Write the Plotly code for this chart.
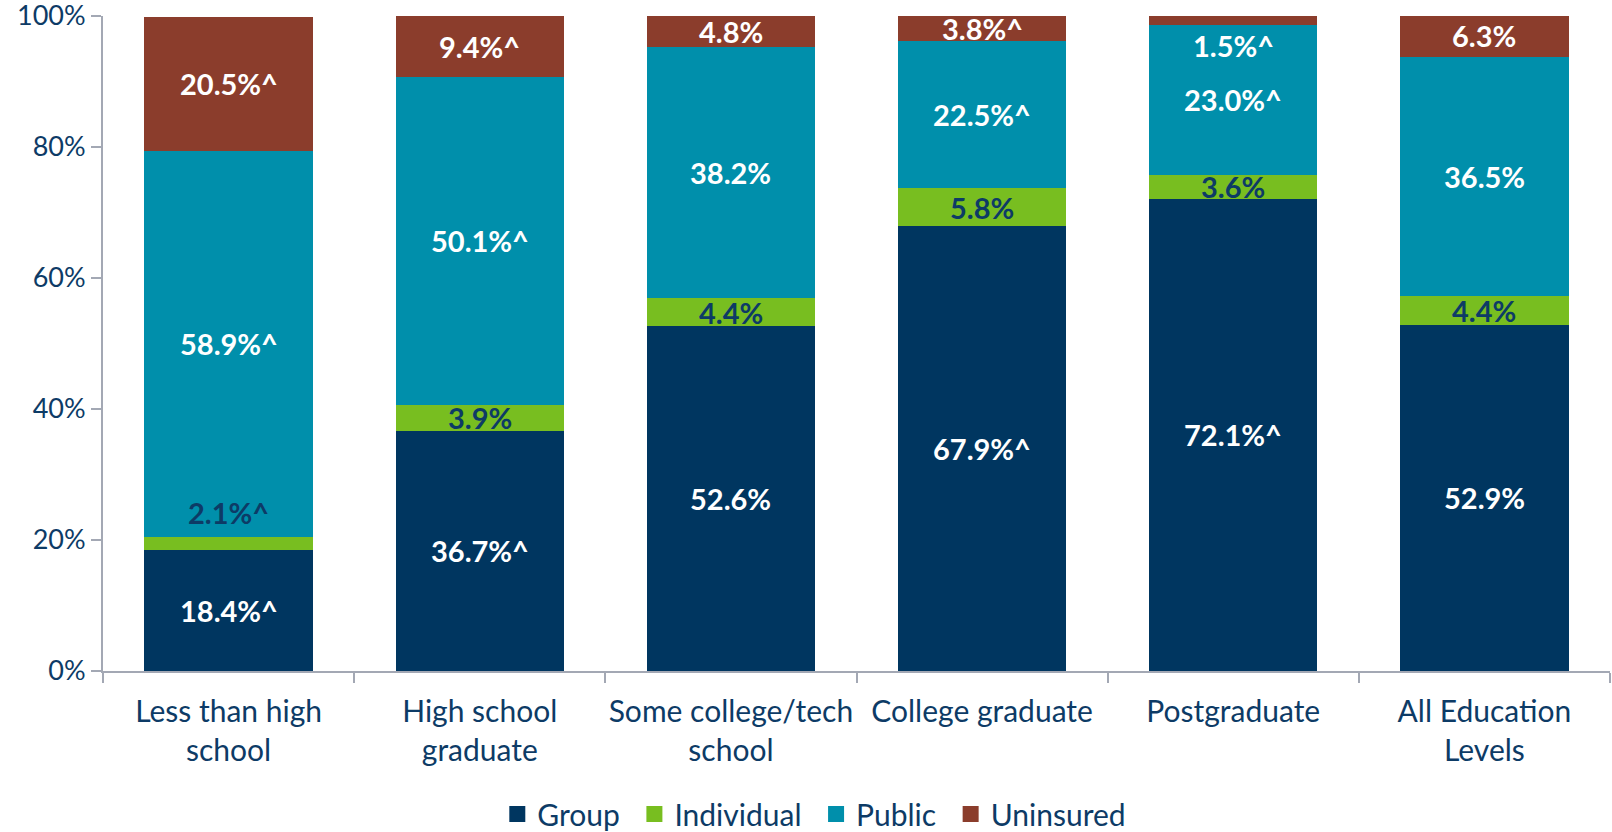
import plotly.graph_objects as go

categories = ["Less than high<br>school", "High school<br>graduate", "Some college/tech<br>school",
              "College graduate<br>", "Postgraduate<br>", "All Education<br>Levels"]

group = [18.4, 36.7, 52.6, 67.9, 72.1, 52.9]
individual = [2.1, 3.9, 4.4, 5.8, 3.6, 4.4]
public = [58.9, 50.1, 38.2, 22.5, 23.0, 36.5]
uninsured = [20.5, 9.4, 4.8, 3.8, 1.5, 6.3]

# "^" marks a significant difference vs. all education levels
group_sig = [True, True, False, True, True, False]
individual_sig = [True, False, False, False, False, False]
public_sig = [True, True, False, True, True, False]
uninsured_sig = [True, True, False, True, True, False]

y_ticks = [0, 20, 40, 60, 80, 100]

NAVY = "#0d3b66"
FONT = "Lato, 'Open Sans', sans-serif"

series = [
    ("Group", group, group_sig, "#003660", "white"),
    ("Individual", individual, individual_sig, "#78be20", NAVY),
    ("Public", public, public_sig, "#008fab", "white"),
    ("Uninsured", uninsured, uninsured_sig, "#8b3d2c", "white"),
]

fig = go.Figure()
annotations = []
base = [0.0] * len(categories)
for name, vals, sig, color, txtcolor in series:
    fig.add_trace(go.Bar(name=name, x=categories, y=vals, showlegend=False,
                         marker=dict(color=color, line=dict(width=0))))
    # legend entry with a bigger square swatch (spaces pad the gap between entries)
    fig.add_trace(go.Scatter(name=name + "\u00a0\u200a", x=[None], y=[None], mode="markers",
                             marker=dict(symbol="square", size=18, color=color)))
    for i, v in enumerate(vals):
        shift = 0
        # small segments get their label nudged into the neighbouring public segment
        if name == "Individual" and v < 3:
            shift = 31
        if name == "Uninsured" and v < 2:
            shift = -26
        annotations.append(dict(
            x=categories[i], y=base[i] + v / 2, yshift=shift,
            text="%.1f%%%s" % (v, "^" if sig[i] else ""),
            showarrow=False,
            font=dict(family=FONT, size=29, color=txtcolor, weight="bold"),
        ))
        base[i] += v

fig.update_layout(
    barmode="stack",
    bargap=0.33,
    width=1612, height=832,
    margin=dict(l=103, r=2, t=16, b=161),
    plot_bgcolor="white", paper_bgcolor="white",
    font=dict(family=FONT, size=29, color=NAVY),
    annotations=annotations,
    showlegend=True,
    legend=dict(orientation="h", xref="container", yref="container", x=0.3085, xanchor="left",
                y=1 - 814 / 832, yanchor="middle", font=dict(size=30, color=NAVY),
                traceorder="normal", itemwidth=30),
)
fig.update_yaxes(range=[0, 100], tickvals=y_ticks, ticktext=["%d%%" % t for t in y_ticks],
                 showgrid=False, zeroline=False, automargin=False, ticklabeloverflow="allow",
                 showline=True, linecolor="#a3a8b4", linewidth=2, ticks="outside", ticklen=10,
                 tickcolor="#a3a8b4", tickwidth=2, tickfont=dict(size=27, color=NAVY))
fig.update_xaxes(showline=True, linecolor="#a3a8b4", linewidth=2, ticks="outside", ticklen=10,
                 tickcolor="#a3a8b4", tickwidth=2, tickson="boundaries", automargin=False,
                 tickangle=0, ticklabelstandoff=13, ticklabeloverflow="allow",
                 tickfont=dict(size=30, color=NAVY))

fig.write_html("out.html", config={"displayModeBar": False},
               post_script="document.body.style.margin='0';")
